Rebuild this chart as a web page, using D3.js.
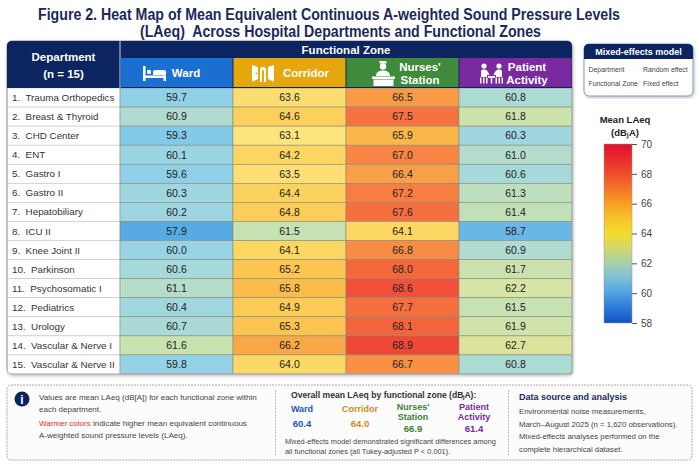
<!DOCTYPE html>
<html>
<head>
<meta charset="utf-8">
<script src="https://cdn.jsdelivr.net/npm/d3@7"></script>
<style>
  body { margin: 0; background: #fff; }
  text { font-family: "Liberation Sans", Arial, sans-serif; }
</style>
</head>
<body>
<div class="chart"></div>
<script>
// heat map of LAeq by department x functional zone

var departments = ["Trauma Orthopedics", "Breast & Thyroid", "CHD Center", "ENT", "Gastro I",
  "Gastro II", "Hepatobiliary", "ICU II", "Knee Joint II", "Parkinson", "Psychosomatic I",
  "Pediatrics", "Urology", "Vascular & Nerve I", "Vascular & Nerve II"];
var zones = ["Ward", "Corridor", "Nurses' Station", "Patient Activity"];
var ward = [59.7, 60.9, 59.3, 60.1, 59.6, 60.3, 60.2, 57.9, 60.0, 60.6, 61.1, 60.4, 60.7, 61.6, 59.8];
var corridor = [63.6, 64.6, 63.1, 64.2, 63.5, 64.4, 64.8, 61.5, 64.1, 65.2, 65.8, 64.9, 65.3, 66.2, 64.0];
var nurses = [66.5, 67.5, 65.9, 67.0, 66.4, 67.2, 67.6, 64.1, 66.8, 68.0, 68.6, 67.7, 68.1, 68.9, 66.7];
var patient = [60.8, 61.8, 60.3, 61.0, 60.6, 61.3, 61.4, 58.7, 60.9, 61.7, 62.2, 61.5, 61.9, 62.7, 60.8];
var overallMeans = [60.4, 64.0, 66.9, 61.4];
var legendTicks = [58, 60, 62, 64, 66, 68, 70];

var W = 700, H = 467;
var navy = "#0c2460";
var zoneColors = ["#1b6fd0", "#e6a70d", "#3f8b3b", "#7a2a9f"];
var zoneText = ["#2156b8", "#d08a1c", "#3d7f33", "#7a2a9f"];

var svg = d3.select(".chart").append("svg")
  .attr("width", W)
  .attr("height", H);

var defs = svg.append("defs");
defs.append("filter").attr("id", "shadow")
  .attr("x", "-5%").attr("y", "-5%").attr("width", "110%").attr("height", "110%")
  .append("feDropShadow")
  .attr("dx", 1).attr("dy", 1.5).attr("stdDeviation", 1.5)
  .attr("flood-color", "#000").attr("flood-opacity", 0.25);

// title
svg.append("text")
  .attr("x", 38).attr("y", 20)
  .attr("textLength", 582).attr("lengthAdjust", "spacingAndGlyphs")
  .attr("font-size", 16).attr("font-weight", "bold").attr("fill", "#1b2a5a")
  .text("Figure 2. Heat Map of Mean Equivalent Continuous A-weighted Sound Pressure Levels");
svg.append("text")
  .attr("x", 140).attr("y", 36.5)
  .attr("textLength", 401).attr("lengthAdjust", "spacingAndGlyphs")
  .attr("font-size", 16).attr("font-weight", "bold").attr("fill", "#1b2a5a")
  .attr("xml:space", "preserve")
  .text("(LAeq)  Across Hospital Departments and Functional Zones");

// table scales
var tableLeft = 7, deptRight = 120, tableRight = 572;
var tableTop = 41, zoneTop = 58, rowTop = 88, tableBottom = 374;

var x = d3.scaleBand().domain(zones).range([deptRight, tableRight]);
var y = d3.scaleBand().domain(departments).range([rowTop, tableBottom]);

var color = d3.scaleLinear()
  .domain([57.9, 58.7, 59.5, 60.0, 60.6, 61.1, 61.5, 62.2, 62.8, 63.0, 64.0, 65.0, 65.8, 66.2, 66.8, 67.5, 68.0, 68.6, 69.0])
  .range(["#58aae2", "#6ab6e6", "#8ccfe9", "#98d4e6", "#a6d9da", "#b6ddca", "#c6e1b2", "#d6e5a4", "#dde39a",
    "#fde680", "#fcd866", "#fcca55", "#fbbc4a", "#f9a848", "#f98c44", "#f67240", "#f4683c", "#f2503a", "#f04636"]);

var series = [ward, corridor, nurses, patient];
var cells = [];
departments.forEach(function(d, i) {
  zones.forEach(function(z, j) {
    cells.push({dept: d, zone: z, value: series[j][i]});
  });
});

// table body background + shadow
svg.append("rect")
  .attr("x", tableLeft).attr("y", tableTop)
  .attr("width", tableRight - tableLeft).attr("height", tableBottom - tableTop)
  .attr("rx", 5)
  .attr("fill", "#fff").attr("stroke", "#b8b8b8")
  .attr("filter", "url(#shadow)");

var paint = svg.append("g");

// dept rows
paint.selectAll(".deptRow").data(departments).enter()
  .append("rect")
  .attr("class", "deptRow")
  .attr("x", tableLeft + 0.5).attr("y", function(d) { return y(d); })
  .attr("width", deptRight - tableLeft - 0.5).attr("height", y.bandwidth())
  .attr("fill", "#fff").attr("stroke", "#c4c4c4").attr("stroke-width", 0.6);

paint.selectAll(".deptLabel").data(departments).enter()
  .append("text")
  .attr("class", "deptLabel")
  .attr("x", 12).attr("y", function(d) { return y(d) + y.bandwidth() / 2 + 3.5; })
  .attr("font-size", 9.8).attr("fill", "#333")
  .attr("xml:space", "preserve")
  .text(function(d, i) { return (i + 1) + ".  " + d; });

// heat cells
paint.selectAll(".cell").data(cells).enter()
  .append("rect")
  .attr("class", "cell")
  .attr("x", function(d) { return x(d.zone); })
  .attr("y", function(d) { return y(d.dept); })
  .attr("width", x.bandwidth()).attr("height", y.bandwidth())
  .attr("fill", function(d) { return color(d.value); })
  .attr("stroke", "#8a8a7a").attr("stroke-width", 0.6);

paint.selectAll(".cellText").data(cells).enter()
  .append("text")
  .attr("class", "cellText")
  .attr("x", function(d) { return x(d.zone) + x.bandwidth() / 2; })
  .attr("y", function(d) { return y(d.dept) + y.bandwidth() / 2 + 3.8; })
  .attr("text-anchor", "middle")
  .attr("font-size", 10.5).attr("fill", "#222")
  .text(function(d) { return d.value.toFixed(1); });

// rounded bottom corners overlay border
svg.append("rect")
  .attr("x", tableLeft).attr("y", tableTop)
  .attr("width", tableRight - tableLeft).attr("height", tableBottom - tableTop)
  .attr("rx", 5)
  .attr("fill", "none").attr("stroke", "#b0b0b0").attr("stroke-width", 1);

// header
var head = svg.append("g");
head.append("path")
  .attr("d", "M" + tableLeft + "," + rowTop + "V" + (tableTop + 5) + "Q" + tableLeft + "," + tableTop + " " + (tableLeft + 5) + "," + tableTop +
    "H" + (tableRight - 5) + "Q" + tableRight + "," + tableTop + " " + tableRight + "," + (tableTop + 5) + "V" + rowTop + "Z")
  .attr("fill", navy);
head.append("line")
  .attr("x1", deptRight).attr("x2", deptRight).attr("y1", tableTop).attr("y2", rowTop)
  .attr("stroke", "#fff").attr("stroke-width", 0.8);
head.append("text").attr("x", (tableLeft + deptRight) / 2).attr("y", 61)
  .attr("text-anchor", "middle").attr("font-size", 11.5).attr("font-weight", "bold").attr("fill", "#fff")
  .text("Department");
head.append("text").attr("x", (tableLeft + deptRight) / 2).attr("y", 78)
  .attr("text-anchor", "middle").attr("font-size", 11.5).attr("font-weight", "bold").attr("fill", "#fff")
  .text("(n = 15)");
head.append("text").attr("x", (deptRight + tableRight) / 2).attr("y", 54)
  .attr("text-anchor", "middle").attr("font-size", 11.5).attr("font-weight", "bold").attr("fill", "#fff")
  .text("Functional Zone");

head.selectAll(".zoneBox").data(zones).enter()
  .append("rect")
  .attr("x", function(d) { return x(d) + 0.5; })
  .attr("y", zoneTop)
  .attr("width", x.bandwidth() - 1).attr("height", rowTop - zoneTop - 1)
  .attr("fill", function(d, i) { return zoneColors[i]; });

var zoneLines = [["Ward"], ["Corridor"], ["Nurses'", "Station"], ["Patient", "Activity"]];
var textCx = [186, 306, 420, 527];
zones.forEach(function(z, i) {
  var t = head.append("text")
    .attr("text-anchor", "middle").attr("font-size", 11.5).attr("font-weight", "bold").attr("fill", "#fff");
  var lines = zoneLines[i];
  lines.forEach(function(l, k) {
    t.append("tspan")
      .attr("x", textCx[i])
      .attr("y", lines.length == 1 ? 77 : 71 + k * 13)
      .text(l);
  });
});

// icons (white)
var ic = head.append("g").attr("fill", "#fff");
// bed
var bx = x("Ward") + 23;
ic.append("rect").attr("x", bx).attr("y", 66).attr("width", 2.5).attr("height", 15);
ic.append("rect").attr("x", bx).attr("y", 75.5).attr("width", 23).attr("height", 2.5);
ic.append("circle").attr("cx", bx + 6).attr("cy", 72).attr("r", 2.2);
ic.append("path").attr("d", "M" + (bx + 10) + ",75 V71.5 Q" + (bx + 10) + ",70 " + (bx + 12) + ",70 H" + (bx + 21) + " Q" + (bx + 23) + ",70 " + (bx + 23) + ",72 V75 Z");
ic.append("rect").attr("x", bx + 20.5).attr("y", 75.5).attr("width", 2.5).attr("height", 5.5);
// corridor doors
var cx0 = x("Corridor") + 19;
ic.append("path").attr("d", "M" + cx0 + ",65 L" + (cx0 + 6) + ",67 V79 L" + cx0 + ",82 Z");
ic.append("path").attr("d", "M" + (cx0 + 8) + ",82 V70 Q" + (cx0 + 8) + ",67 " + (cx0 + 11) + ",67 Q" + (cx0 + 14) + ",67 " + (cx0 + 14) + ",70 V82 H" + (cx0 + 12) + " V70.5 Q" + (cx0 + 11) + ",69.5 " + (cx0 + 10) + ",70.5 V82 Z");
ic.append("path").attr("d", "M" + (cx0 + 22) + ",65 L" + (cx0 + 16) + ",67 V79 L" + (cx0 + 22) + ",82 Z");
ic.append("circle").attr("cx", cx0 + 4.3).attr("cy", 73.5).attr("r", 0.9).attr("fill", zoneColors[1]);
// nurse at desk
var nx = x("Nurses' Station") + 26;
ic.append("path").attr("d", "M" + (nx + 7.5) + ",61 h7 v2.5 h-7 Z");
ic.append("circle").attr("cx", nx + 11).attr("cy", 66.5).attr("r", 3.2);
ic.append("path").attr("d", "M" + (nx + 4) + ",76 Q" + (nx + 4) + ",70.5 " + (nx + 11) + ",70.5 Q" + (nx + 18) + ",70.5 " + (nx + 18) + ",76 Z");
ic.append("rect").attr("x", nx).attr("y", 76.5).attr("width", 23).attr("height", 2.5);
ic.append("rect").attr("x", nx + 1.5).attr("y", 79.5).attr("width", 20).attr("height", 6.5);
// patient activity
var px = x("Patient Activity") + 21;
ic.append("circle").attr("cx", px + 4).attr("cy", 66).attr("r", 2.6);
ic.append("circle").attr("cx", px + 19).attr("cy", 66).attr("r", 2.6);
ic.append("path").attr("d", "M" + (px + 1) + ",77 V71.5 Q" + (px + 1) + ",69.5 " + (px + 3) + ",69.5 H" + (px + 5) + " Q" + (px + 7) + ",69.5 " + (px + 8) + ",72 L" + (px + 9.5) + ",75 H" + (px + 7) + " V77 Z");
ic.append("path").attr("d", "M" + (px + 22) + ",77 V71.5 Q" + (px + 22) + ",69.5 " + (px + 20) + ",69.5 H" + (px + 18) + " Q" + (px + 16) + ",69.5 " + (px + 15) + ",72 L" + (px + 13.5) + ",75 H" + (px + 16) + " V77 Z");
ic.append("rect").attr("x", px + 8).attr("y", 76).attr("width", 7).attr("height", 1.8);
ic.append("rect").attr("x", px + 10.7).attr("y", 77.5).attr("width", 1.6).attr("height", 6);
[0, 3, 6, 15.5, 18.5, 21.5].forEach(function(o) {
  ic.append("rect").attr("x", px + o).attr("y", 77.5).attr("width", 1.5).attr("height", 6);
});

// mixed-effects model box
var mb = svg.append("g");
mb.append("rect").attr("x", 584).attr("y", 44).attr("width", 109).attr("height", 52).attr("rx", 5)
  .attr("fill", "#fff").attr("stroke", "#8a97b8").attr("filter", "url(#shadow)");
mb.append("path")
  .attr("d", "M584,59 V49 Q584,44 589,44 H688 Q693,44 693,49 V59 Z")
  .attr("fill", navy);
mb.append("text").attr("x", 638.5).attr("y", 55).attr("text-anchor", "middle")
  .attr("font-size", 9).attr("font-weight", "bold").attr("fill", "#fff").text("Mixed-effects model");
var modelRows = [["Department", "Random effect"], ["Functional Zone", "Fixed effect"]];
modelRows.forEach(function(r, i) {
  mb.append("text").attr("x", 588.5).attr("y", 72 + i * 14).attr("font-size", 6.9).attr("fill", "#444").text(r[0]);
  mb.append("text").attr("x", 643).attr("y", 72 + i * 14).attr("font-size", 6.9).attr("fill", "#444").text(r[1]);
});

// color legend
var legendY = d3.scaleLinear().domain([58, 70]).range([323, 144]);
var legendColor = d3.scaleLinear()
  .domain([58, 59, 60, 61, 62, 63, 64, 65, 66, 67, 68, 69, 70])
  .range(["#1450c2", "#2c7ad8", "#4ea2e2", "#7ebfd8", "#a6cfad", "#d0d86e", "#f1dc2e", "#f7c42a", "#f7a022", "#f37526", "#ee4c2a", "#e82c2c", "#e0102e"]);
var grad = defs.append("linearGradient").attr("id", "lg")
  .attr("x1", 0).attr("y1", 1).attr("x2", 0).attr("y2", 0);
d3.range(58, 70.01, 0.5).forEach(function(v) {
  grad.append("stop").attr("offset", (v - 58) / 12).attr("stop-color", legendColor(v));
});
var lg = svg.append("g");
lg.append("text").attr("x", 625).attr("y", 123).attr("text-anchor", "middle")
  .attr("font-size", 9.5).attr("font-weight", "bold").attr("fill", "#222").text("Mean LAeq");
lg.append("text").attr("x", 625).attr("y", 136).attr("text-anchor", "middle")
  .attr("font-size", 9.5).attr("font-weight", "bold").attr("fill", "#222").text("(dB\u2C7CA)");
lg.append("rect").attr("x", 604).attr("y", legendY(70)).attr("width", 28).attr("height", legendY(58) - legendY(70))
  .attr("fill", "url(#lg)").attr("stroke", "#999").attr("stroke-width", 0.5);
var axis = d3.axisRight(legendY).tickValues(legendTicks).tickSize(5).tickPadding(4);
lg.append("g").attr("transform", "translate(632,0)").call(axis)
  .call(function(g) { g.select(".domain").remove(); })
  .call(function(g) {
    g.selectAll("line").attr("stroke", "#555");
    g.selectAll("text").attr("font-size", 10).attr("fill", "#444").attr("font-family", "Liberation Sans, Arial, sans-serif");
  });

// bottom note panel
var note = svg.append("g");
note.append("rect").attr("x", 7).attr("y", 385).attr("width", 685).attr("height", 75).attr("rx", 4)
  .attr("fill", "#fcfcfc").attr("stroke", "#aaa").attr("stroke-dasharray", "2,1");
note.append("circle").attr("cx", 22).attr("cy", 399).attr("r", 7.5).attr("fill", navy);
note.append("text").attr("x", 22).attr("y", 403.5).attr("text-anchor", "middle")
  .attr("font-size", 12).attr("font-weight", "bold").attr("font-family", "DejaVu Serif, serif").attr("fill", "#fff").text("i");
note.append("line").attr("x1", 275.5).attr("x2", 275.5).attr("y1", 390).attr("y2", 455)
  .attr("stroke", "#bbb").attr("stroke-dasharray", "2,1");
note.append("line").attr("x1", 508.5).attr("x2", 508.5).attr("y1", 390).attr("y2", 455)
  .attr("stroke", "#bbb").attr("stroke-dasharray", "2,1");

var ns = 8;
note.append("text").attr("x", 39).attr("y", 400).attr("font-size", ns).attr("fill", "#444")
  .text("Values are mean LAeq (dB[A]) for each functional zone within");
note.append("text").attr("x", 39).attr("y", 411.5).attr("font-size", ns).attr("fill", "#444")
  .text("each department.");
var warm = note.append("text").attr("x", 39).attr("y", 426).attr("font-size", ns).attr("fill", "#444");
warm.append("tspan").attr("fill", "#e8302a").text("Warmer colors");
warm.append("tspan").text(" indicate higher mean equivalent continuous");
note.append("text").attr("x", 39).attr("y", 437.5).attr("font-size", ns).attr("fill", "#444")
  .text("A-weighted sound pressure levels (LAeq).");

note.append("text").attr("x", 291).attr("y", 398).attr("font-size", 8.6).attr("font-weight", "bold").attr("fill", "#333")
  .text("Overall mean LAeq by functional zone (dB\u2C7CA):");
var meanCx = [302, 360, 413, 474];
zones.forEach(function(z, i) {
  var lines = zoneLines[i];
  var t = note.append("text").attr("text-anchor", "middle").attr("font-size", 9).attr("font-weight", "bold")
    .attr("fill", zoneText[i]);
  lines.forEach(function(l, k) {
    t.append("tspan").attr("x", meanCx[i]).attr("y", lines.length == 1 ? 412 : 409.5 + k * 10).text(l);
  });
  note.append("text").attr("x", meanCx[i]).attr("y", lines.length == 1 ? 426.5 : 431.5)
    .attr("text-anchor", "middle").attr("font-size", 9.6).attr("font-weight", "bold").attr("fill", zoneText[i])
    .text(overallMeans[i].toFixed(1));
});
note.append("text").attr("x", 285).attr("y", 444).attr("font-size", 7.4).attr("fill", "#444")
  .text("Mixed-effects model demonstrated significant differences among");
note.append("text").attr("x", 285).attr("y", 454).attr("font-size", 7.4).attr("fill", "#444")
  .text("all functional zones (all Tukey-adjusted P < 0.001).");

note.append("text").attr("x", 519).attr("y", 400).attr("font-size", 9).attr("font-weight", "bold").attr("fill", "#1b2a5a")
  .text("Data source and analysis");
var srcLines = ["Environmental noise measurements,", "March\u2013August 2025 (n = 1,620 observations).",
  "Mixed-effects analyses performed on the", "complete hierarchical dataset."];
srcLines.forEach(function(l, i) {
  note.append("text").attr("x", 519).attr("y", 414 + i * 12.5).attr("font-size", 7.8).attr("fill", "#444").text(l);
});
</script>
</body>
</html>
